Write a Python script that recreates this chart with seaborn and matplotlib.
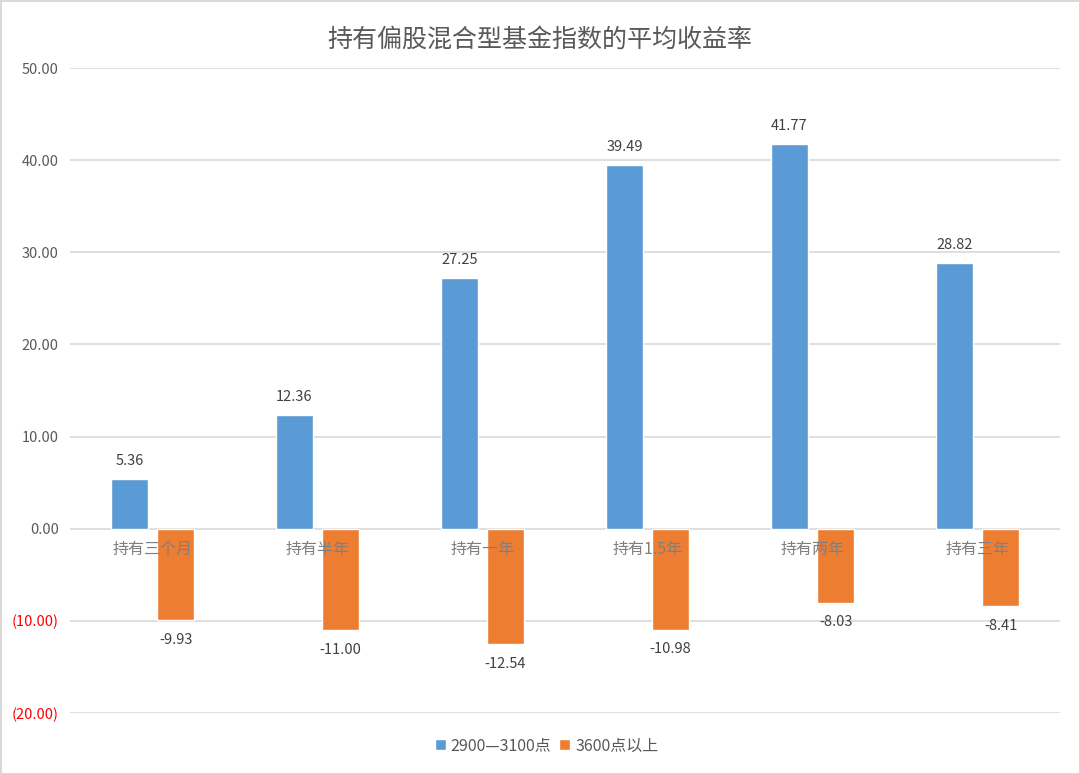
import matplotlib
matplotlib.use("Agg")
import matplotlib.pyplot as plt
import seaborn as sns
import pandas as pd
from matplotlib.ticker import FuncFormatter

categories = ["持有三个月", "持有半年", "持有一年", "持有1.5年", "持有两年", "持有三年"]
series_names = ["2900—3100点", "3600点以上"]
low_values = [5.36, 12.36, 27.25, 39.49, 41.77, 28.82]
high_values = [-9.93, -11.00, -12.54, -10.98, -8.03, -8.41]
title = "持有偏股混合型基金指数的平均收益率"
colors = ["#5B9BD5", "#ED7D31"]

df = pd.DataFrame({
    "category": categories * 2,
    "series": [series_names[0]] * len(categories) + [series_names[1]] * len(categories),
    "value": low_values + high_values,
})

sns.set_theme(style="white")
plt.rcParams["font.family"] = ["Noto Sans CJK SC", "DejaVu Sans"]
text_color = "#595959"

fig = plt.figure(figsize=(10.8, 7.74), dpi=100)
fig.patch.set_edgecolor("#d9d9d9")
fig.patch.set_linewidth(2)
ax = fig.add_axes([0.0648, 0.0788, 0.9167, 0.8333])

sns.barplot(data=df, x="category", y="value", hue="series", order=categories,
            hue_order=series_names, palette=colors, width=0.56, gap=0.2,
            saturation=1, ax=ax, legend=True)

ax.set_ylim(-20, 50)
ax.set_xlim(-0.5, len(categories) - 0.5)
ax.set_yticks([-20, -10, 0, 10, 20, 30, 40, 50])
ax.yaxis.set_major_formatter(FuncFormatter(
    lambda v, p: f"({abs(v):.2f})" if v < 0 else f"{v:.2f}"))
for lbl in ax.get_yticklabels():
    lbl.set_color("#FF0000" if "(" in lbl.get_text() else text_color)
    lbl.set_fontsize(10.5)
ax.tick_params(axis="y", length=0, pad=8)
ax.yaxis.grid(True, color="#d9d9d9", linewidth=1.2)
ax.set_axisbelow(True)
for s in ax.spines.values():
    s.set_visible(False)
ax.set_xticks([])
ax.set_xlabel("")
ax.set_ylabel("")

# category labels at the zero line
for i, c in enumerate(categories):
    ax.annotate(c, xy=(i, 0), xytext=(0, -15), textcoords="offset points",
                ha="center", va="center", fontsize=11.5, color="#7f7f7f", zorder=1)

# data labels
for container in ax.containers:
    for bar in container:
        h = bar.get_height()
        x = bar.get_x() + bar.get_width() / 2
        if h >= 0:
            ax.annotate(f"{h:.2f}", xy=(x, h), xytext=(0, 13), textcoords="offset points",
                        ha="center", va="center", fontsize=10.5, color="#404040")
        else:
            ax.annotate(f"{h:.2f}", xy=(x, h), xytext=(0, -14), textcoords="offset points",
                        ha="center", va="center", fontsize=10.5, color="#404040")

fig.suptitle(title, x=0.5, y=0.965, fontsize=18, color=text_color)

leg = ax.legend(loc="upper center", bbox_to_anchor=(0.506, 0.0788 - 0.013),
                bbox_transform=fig.transFigure, ncol=2, frameon=False,
                fontsize=11.5, handlelength=0.7, handleheight=0.7, handletextpad=0.3,
                columnspacing=0.5)
for t in leg.get_texts():
    t.set_color(text_color)

fig.savefig("out.png", dpi=100)
